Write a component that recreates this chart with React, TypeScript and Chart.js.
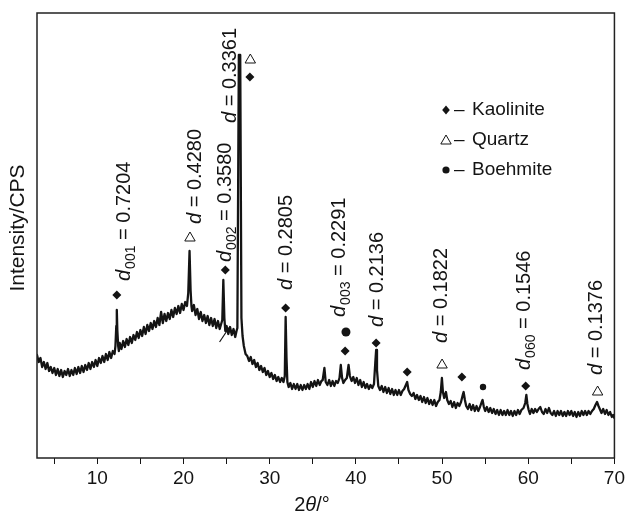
import React, { useEffect, useRef } from "react";
import { Chart, registerables } from "chart.js";

Chart.register(...registerables);

// Diffraction trace: [2θ (°), intensity (counts)]
const pattern: [number, number][] = [
  [3.0, 103], [3.2, 96], [3.4, 100], [3.6, 91], [3.8, 96], [4.0, 89], [4.2, 95], [4.4, 87],
  [4.6, 91], [4.8, 85], [5.0, 90], [5.2, 83], [5.4, 89], [5.6, 82], [5.8, 88], [6.0, 81],
  [6.2, 87], [6.4, 83], [6.6, 89], [6.8, 82], [7.0, 88], [7.2, 83], [7.4, 90], [7.6, 84],
  [7.8, 91], [8.0, 85], [8.2, 92], [8.4, 86], [8.6, 93], [8.8, 88], [9.0, 95], [9.2, 89],
  [9.4, 96], [9.6, 91], [9.8, 98], [10.0, 92], [10.2, 100], [10.4, 95], [10.6, 102], [10.8, 96],
  [11.0, 104], [11.2, 98], [11.4, 106], [11.6, 100], [11.8, 107], [12.0, 104], [12.1, 112],
  [12.2, 132], [12.26, 148], [12.32, 128], [12.42, 112], [12.5, 107], [12.6, 115], [12.8, 109],
  [13.0, 117], [13.2, 111], [13.4, 119], [13.6, 113], [13.8, 121], [14.0, 115], [14.2, 123],
  [14.4, 118], [14.6, 126], [14.8, 120], [15.0, 128], [15.2, 122], [15.4, 131], [15.6, 124],
  [15.8, 133], [16.0, 127], [16.2, 135], [16.4, 129], [16.6, 137], [16.8, 131], [17.0, 140],
  [17.2, 133], [17.4, 146], [17.6, 135], [17.8, 144], [18.0, 137], [18.2, 145], [18.4, 139],
  [18.6, 148], [18.8, 141], [19.0, 150], [19.2, 144], [19.4, 152], [19.6, 145], [19.8, 154],
  [20.0, 148], [20.2, 156], [20.4, 152], [20.55, 165], [20.7, 207], [20.82, 168], [20.92, 152],
  [21.0, 147], [21.2, 153], [21.4, 143], [21.6, 149], [21.8, 139], [22.0, 146], [22.2, 137],
  [22.4, 143], [22.6, 135], [22.8, 142], [23.0, 133], [23.2, 140], [23.4, 132], [23.6, 139],
  [23.8, 130], [24.0, 137], [24.2, 129], [24.4, 135], [24.5, 138], [24.62, 178], [24.74, 140],
  [24.85, 127], [25.0, 132], [25.2, 124], [25.4, 131], [25.6, 123], [25.8, 129], [26.0, 121],
  [26.15, 127], [26.25, 130], [26.42, 403], [26.58, 403], [26.72, 140], [26.85, 122],
  [27.0, 112], [27.2, 104], [27.4, 102], [27.6, 97], [27.8, 101], [28.0, 94], [28.2, 98],
  [28.4, 91], [28.6, 95], [28.8, 88], [29.0, 92], [29.2, 86], [29.4, 90], [29.6, 83],
  [29.8, 87], [30.0, 81], [30.2, 85], [30.4, 79], [30.6, 83], [30.8, 77], [31.0, 81],
  [31.2, 76], [31.4, 80], [31.6, 76], [31.75, 82], [31.85, 141], [31.95, 100], [32.05, 76],
  [32.2, 71], [32.4, 75], [32.6, 69], [32.8, 74], [33.0, 69], [33.2, 74], [33.4, 68],
  [33.6, 73], [33.8, 68], [34.0, 73], [34.2, 69], [34.4, 74], [34.6, 69], [34.8, 76],
  [35.0, 71], [35.2, 77], [35.4, 72], [35.6, 78], [35.8, 73], [36.0, 77], [36.15, 78],
  [36.35, 90], [36.5, 76], [36.7, 73], [36.9, 78], [37.1, 72], [37.3, 77], [37.5, 72],
  [37.7, 77], [37.9, 75], [38.1, 80], [38.25, 93], [38.4, 80], [38.55, 75], [38.75, 78],
  [38.95, 80], [39.15, 93], [39.3, 82], [39.5, 77], [39.7, 81], [39.9, 75], [40.1, 80],
  [40.3, 73], [40.5, 78], [40.7, 71], [40.9, 76], [41.1, 70], [41.3, 74], [41.5, 69],
  [41.7, 73], [41.9, 70], [42.1, 74], [42.25, 95], [42.35, 108], [42.45, 88], [42.6, 72],
  [42.8, 68], [43.0, 72], [43.2, 66], [43.4, 71], [43.6, 65], [43.8, 70], [44.0, 64],
  [44.2, 69], [44.4, 63], [44.6, 68], [44.8, 63], [45.0, 68], [45.2, 63], [45.4, 67],
  [45.6, 69], [45.8, 73], [45.95, 76], [46.1, 68], [46.3, 64], [46.5, 62], [46.7, 65],
  [46.9, 59], [47.1, 63], [47.3, 58], [47.5, 62], [47.7, 56], [47.9, 61], [48.1, 55],
  [48.3, 60], [48.5, 54], [48.7, 58], [48.9, 53], [49.1, 58], [49.3, 52], [49.5, 56],
  [49.7, 58], [49.85, 66], [49.98, 80], [50.1, 66], [50.25, 60], [50.45, 66], [50.6, 58],
  [50.8, 54], [51.0, 57], [51.2, 51], [51.4, 56], [51.6, 50], [51.8, 55], [52.0, 52],
  [52.2, 56], [52.4, 63], [52.5, 66], [52.65, 58], [52.8, 52], [53.0, 49], [53.2, 54],
  [53.4, 48], [53.6, 53], [53.8, 47], [54.0, 52], [54.2, 47], [54.4, 51], [54.6, 56],
  [54.7, 58], [54.85, 51], [55.0, 47], [55.2, 51], [55.4, 46], [55.6, 50], [55.8, 45],
  [56.0, 49], [56.2, 44], [56.4, 48], [56.6, 43], [56.8, 48], [57.0, 43], [57.2, 47],
  [57.4, 43], [57.6, 48], [57.8, 43], [58.0, 47], [58.2, 42], [58.4, 47], [58.6, 43],
  [58.8, 48], [59.0, 44], [59.2, 48], [59.45, 50], [59.65, 55], [59.78, 63], [59.9, 54],
  [60.05, 48], [60.2, 44], [60.4, 49], [60.6, 45], [60.8, 49], [61.0, 46], [61.2, 49],
  [61.4, 51], [61.6, 46], [61.8, 44], [62.0, 49], [62.2, 45], [62.4, 50], [62.6, 45],
  [62.8, 43], [63.0, 47], [63.2, 42], [63.4, 47], [63.6, 43], [63.8, 47], [64.0, 42],
  [64.2, 46], [64.4, 42], [64.6, 47], [64.8, 43], [65.0, 47], [65.2, 42], [65.4, 46],
  [65.6, 41], [65.8, 46], [66.0, 42], [66.2, 47], [66.4, 43], [66.6, 47], [66.8, 43],
  [67.0, 47], [67.2, 44], [67.4, 47], [67.6, 49], [67.8, 53], [67.98, 56], [68.15, 52],
  [68.3, 49], [68.5, 45], [68.7, 49], [68.9, 44], [69.1, 48], [69.3, 43], [69.5, 46],
  [69.7, 41], [69.85, 43], [70.0, 40],
];

// Short stray stroke beside the d002 reflection
const strayTrace: [number, number][] = [[24.18, 116], [25.34, 131]];

// Phase markers: [2θ, height]
const kaoliniteMarks: [number, number][] = [
  [12.26, 163], [24.85, 188], [27.7, 381], [31.85, 150], [38.75, 107],
  [42.35, 115], [45.95, 86], [52.3, 81], [59.7, 72],
];
const quartzMarks: [number, number][] = [
  [20.75, 220], [27.75, 398], [50.0, 93], [68.05, 66],
];
const boehmiteMarks: [number, number][] = [[38.85, 126], [54.75, 71]];
const boehmiteSizes = [4.5, 3.2];

// Interplanar spacings (nm) written over the reflections
const dIndices = ["001", "", "002", "", "", "003", "", "", "060", ""];
const dValues = ["0.7204", "0.4280", "0.3580", "0.3361", "0.2805", "0.2291", "0.2136", "0.1822", "0.1546", "0.1376"];

// Axis ticks
const xTicks = [5, 10, 15, 20, 25, 30, 35, 40, 45, 50, 55, 60, 65, 70];
const xTickLabels = ["", "10", "", "20", "", "30", "", "40", "", "50", "", "60", "", "70"];

const legendNames = ["Kaolinite", "Quartz", "Boehmite"];

// Where each spacing label starts (2θ, height), reading upward
const noteAnchors: [number, number][] = [
  [12.95, 177], [21.17, 234], [24.65, 196], [25.28, 335], [31.82, 168],
  [37.95, 141], [42.35, 131], [49.75, 115], [59.4, 88], [67.7, 83],
];

const FONT = '"Liberation Sans", Arial, Helvetica, sans-serif';
const INK = "#141414";

function diamond(ctx: CanvasRenderingContext2D, x: number, y: number, r: number) {
  ctx.beginPath();
  ctx.moveTo(x, y - r);
  ctx.lineTo(x + r * 0.85, y);
  ctx.lineTo(x, y + r);
  ctx.lineTo(x - r * 0.85, y);
  ctx.closePath();
  ctx.fill();
}

function triangle(ctx: CanvasRenderingContext2D, x: number, y: number, r: number) {
  ctx.beginPath();
  ctx.moveTo(x, y - r);
  ctx.lineTo(x + r * 0.866, y + r * 0.5);
  ctx.lineTo(x - r * 0.866, y + r * 0.5);
  ctx.closePath();
  ctx.stroke();
}

function drawNote(ctx: CanvasRenderingContext2D, px: number, py: number, sub: string, value: string) {
  ctx.save();
  ctx.translate(px, py);
  ctx.rotate(-Math.PI / 2);
  ctx.fillStyle = INK;
  ctx.textAlign = "left";
  ctx.textBaseline = "alphabetic";
  const base = 7;
  let x = 0;
  ctx.font = `italic 20px ${FONT}`;
  ctx.fillText("d", x, base);
  x += ctx.measureText("d").width;
  if (sub) {
    ctx.font = `14px ${FONT}`;
    ctx.fillText(sub, x + 1, base + 5);
    x += ctx.measureText(sub).width + 1;
  }
  ctx.font = `20px ${FONT}`;
  ctx.fillText(" = " + value, x, base);
  ctx.restore();
}

const decorations = {
  id: "xrdDecorations",
  afterDatasetsDraw(chart: any) {
    const { ctx, chartArea, scales } = chart;
    const xs = scales.x;
    const ys = scales.y;
    ctx.save();

    // plot frame
    ctx.strokeStyle = "#222";
    ctx.lineWidth = 1.5;
    ctx.strokeRect(chartArea.left, chartArea.top, chartArea.right - chartArea.left, chartArea.bottom - chartArea.top);

    // spacing labels
    noteAnchors.forEach(([t, h], i) => {
      drawNote(ctx, xs.getPixelForValue(t), ys.getPixelForValue(h), dIndices[i], dValues[i]);
    });

    // legend
    const lx = 446;
    const rows = [110, 140, 170];
    ctx.fillStyle = INK;
    ctx.strokeStyle = INK;
    ctx.lineWidth = 1;
    diamond(ctx, lx, rows[0], 4.5);
    triangle(ctx, lx, rows[1] + 1, 6);
    ctx.beginPath();
    ctx.arc(lx, rows[2], 3.6, 0, Math.PI * 2);
    ctx.fill();
    ctx.font = `19px ${FONT}`;
    ctx.textBaseline = "middle";
    ctx.textAlign = "left";
    legendNames.forEach((name, i) => {
      ctx.fillText("\u2013", lx + 8, rows[i]);
      ctx.fillText(name, lx + 26, rows[i]);
    });

    // y-axis title
    ctx.save();
    ctx.translate(18, 228);
    ctx.rotate(-Math.PI / 2);
    ctx.textAlign = "center";
    ctx.textBaseline = "middle";
    ctx.font = `21px ${FONT}`;
    ctx.fillText("Intensity/CPS", 0, 0);
    ctx.restore();

    // x-axis title: 2θ/°
    ctx.textBaseline = "alphabetic";
    ctx.textAlign = "left";
    const parts: [string, string][] = [["2", `20px ${FONT}`], ["θ", `italic 20px ${FONT}`], ["/°", `20px ${FONT}`]];
    let total = 0;
    parts.forEach(([s, f]) => { ctx.font = f; total += ctx.measureText(s).width; });
    let cx = 312 - total / 2;
    parts.forEach(([s, f]) => { ctx.font = f; ctx.fillText(s, cx, 511); cx += ctx.measureText(s).width; });

    ctx.restore();
  },
};

export default function App() {
  const canvasRef = useRef<HTMLCanvasElement | null>(null);

  useEffect(() => {
    document.body.style.margin = "0";
    const canvas = canvasRef.current;
    if (!canvas) return;
    const toPts = (arr: [number, number][]) => arr.map(([x, y]) => ({ x, y }));

    const chart = new Chart(canvas, {
      type: "scatter",
      data: {
        datasets: [
          {
            data: toPts(pattern),
            showLine: true,
            borderColor: INK,
            borderWidth: 2.3,
            borderJoinStyle: "round",
            borderCapStyle: "round",
            pointRadius: 0,
            tension: 0,
          },
          {
            data: toPts(strayTrace),
            showLine: true,
            borderColor: INK,
            borderWidth: 1.2,
            pointRadius: 0,
          },
          {
            data: toPts(kaoliniteMarks),
            pointStyle: "rectRot",
            pointRadius: 4.5,
            backgroundColor: INK,
            borderWidth: 0,
          },
          {
            data: toPts(quartzMarks),
            pointStyle: "triangle",
            pointRadius: 6,
            backgroundColor: "rgba(0,0,0,0)",
            borderColor: INK,
            borderWidth: 1,
          },
          {
            data: toPts(boehmiteMarks),
            pointStyle: "circle",
            pointRadius: boehmiteSizes,
            backgroundColor: INK,
            borderWidth: 0,
          },
        ],
      },
      options: {
        responsive: false,
        animation: false,
        devicePixelRatio: 1,
        layout: { padding: { left: 37, right: 12, top: 13, bottom: 0 } },
        plugins: { legend: { display: false }, tooltip: { enabled: false } },
        scales: {
          x: {
            type: "linear",
            min: 3,
            max: 70,
            afterBuildTicks: (s: any) => {
              s.ticks = xTicks.map((v) => ({ value: v }));
            },
            afterFit: (s: any) => {
              s.height = 57;
            },
            ticks: {
              autoSkip: false,
              maxRotation: 0,
              padding: 3,
              color: INK,
              font: { family: FONT, size: 19 },
              callback: (v: any) => {
                const i = xTicks.indexOf(Number(v));
                return i >= 0 ? xTickLabels[i] : "";
              },
            },
            grid: { drawOnChartArea: false, drawTicks: true, tickLength: 6, color: INK, lineWidth: 1 },
            border: { display: false },
          },
          y: {
            display: false,
            min: 0,
            max: 445,
          },
        },
      },
      plugins: [decorations],
    });

    return () => chart.destroy();
  }, []);

  return (
    <div style={{ position: "absolute", left: 0, top: 0, width: 628, height: 515, background: "#fff" }}>
      <canvas ref={canvasRef} width={628} height={515} />
    </div>
  );
}
